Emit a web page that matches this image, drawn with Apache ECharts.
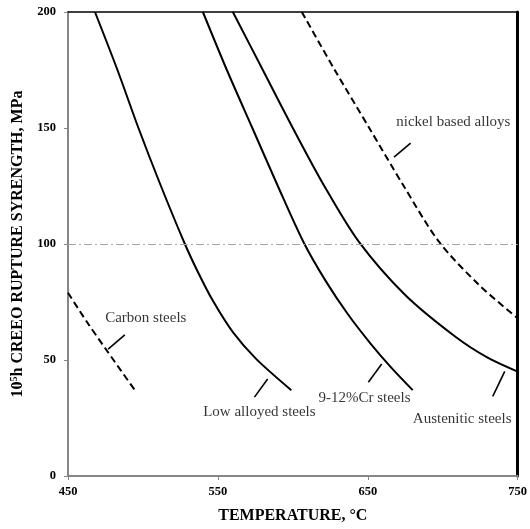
<!DOCTYPE html>
<html>
<head>
<meta charset="utf-8">
<script src="https://cdn.jsdelivr.net/npm/echarts@6/dist/echarts.min.js"></script>
<style>
  html, body { margin: 0; padding: 0; background: #fff; }
  #chart { width: 530px; height: 529px; }
</style>
</head>
<body>
<div id="chart"></div>
<script>
// Temperature ticks (°C) and stress ticks (MPa)
const tempTicks = [450, 550, 650, 750];
const stressTicks = [0, 50, 100, 150, 200];

// 10^5 h creep rupture strength curves: [temperature °C, strength MPa]
const carbonSteels = [[450, 79], [462, 67], [476, 54], [494.6, 37]];
const lowAlloyed = [[468, 200], [483, 175], [497, 150], [512, 125], [528, 100], [537, 87.5], [546.7, 75.5], [560, 62], [575.5, 50.5], [599, 37]];
const cr912 = [[540, 200], [556, 175], [573, 150], [590, 125], [607, 101], [622, 84], [637, 69.5], [652, 57], [666, 46.5], [680, 37]];
const austenitic = [[560, 200], [580, 175], [600, 150], [621, 125], [644, 101], [675, 78], [708.5, 60], [730, 51], [750, 45]];
const nickelAlloys = [[606, 200], [628, 175], [651, 150], [674, 125], [697.5, 101], [724, 82.5], [750, 68]];

// Reference level
const refLevel = 100;

// Curve names, label anchors and leader lines (data units)
const labelNames = ['Carbon steels', 'Low alloyed steels', '9-12%Cr steels', 'Austenitic steels', 'nickel based alloys'];
const labelPoints = [[501.9, 67.9], [577.7, 27.6], [647.8, 33.6], [713, 24.7], [707.1, 152.4]];
const leaderLines = [
  [[487.9, 60.8], [476.8, 54.7]],
  [[583.2, 41.8], [574.4, 34.0]],
  [[659.3, 48.3], [650.4, 40.4]],
  [[741.4, 45.1], [733.4, 34.3]],
  [[678.6, 143.5], [667.5, 137.4]]
];

const FONT = '"Liberation Serif", "Times New Roman", serif';
const chart = echarts.init(document.getElementById('chart'), null, { renderer: 'canvas' });

function curve(data, dashed) {
  return {
    type: 'line',
    data: data,
    smooth: 0.3,
    showSymbol: false,
    symbol: 'none',
    silent: true,
    lineStyle: { color: '#000', width: 2, type: dashed ? [7, 4] : 'solid' },
    z: 3
  };
}

const leaderSeries = leaderLines.map(seg => ({
  type: 'line',
  data: seg,
  showSymbol: false,
  symbol: 'none',
  silent: true,
  lineStyle: { color: '#000', width: 1.6 },
  z: 3
}));

const option = {
  animation: false,
  backgroundColor: '#fff',
  grid: { left: 68, right: 11, top: 12, bottom: 50 },
  xAxis: [
    {
      type: 'value',
      min: 450,
      max: 750,
      position: 'bottom',
      name: 'TEMPERATURE, °C',
      nameLocation: 'middle',
      nameGap: 32,
      nameTextStyle: { fontFamily: FONT, fontWeight: 'bold', fontSize: 16, color: '#000' },
      axisLine: { show: true, onZero: false, lineStyle: { color: '#868686', width: 2 } },
      axisTick: { show: true, length: 4, customValues: tempTicks, lineStyle: { color: '#868686', width: 1 } },
      axisLabel: { customValues: tempTicks, margin: 9, fontFamily: FONT, fontWeight: 'bold', fontSize: 12.5, color: '#000' },
      splitLine: { show: false }
    },
    {
      type: 'value',
      min: 450,
      max: 750,
      position: 'top',
      axisLine: { show: true, onZero: false, lineStyle: { color: '#000', width: 1.5 } },
      axisTick: { show: false },
      axisLabel: { show: false },
      splitLine: { show: false }
    }
  ],
  yAxis: [
    {
      type: 'value',
      min: 0,
      max: 200,
      interval: 50,
      position: 'left',
      name: '10{sup|5}h CREEO RUPTURE SYRENGTH, MPa',
      nameLocation: 'middle',
      nameGap: 30,
      nameRotate: 90,
      nameTextStyle: {
        fontFamily: FONT, fontWeight: 'bold', fontSize: 16, color: '#000',
        rich: {
          sup: { fontFamily: FONT, fontWeight: 'bold', fontSize: 10, color: '#000', verticalAlign: 'top', padding: [0, 0, 7, 0] }
        }
      },
      axisLine: { show: true, onZero: false, lineStyle: { color: '#868686', width: 2 } },
      axisTick: { show: true, length: 4, lineStyle: { color: '#868686', width: 1 } },
      axisLabel: { margin: 12, fontFamily: FONT, fontWeight: 'bold', fontSize: 12.5, color: '#000' },
      splitLine: { show: false }
    },
    {
      type: 'value',
      min: 0,
      max: 200,
      interval: 50,
      position: 'right',
      axisLine: { show: true, onZero: false, lineStyle: { color: '#000', width: 3 } },
      axisTick: { show: false },
      axisLabel: { show: false },
      splitLine: { show: false }
    }
  ],
  series: [
    {
      type: 'line',
      data: [],
      silent: true,
      markLine: {
        silent: true,
        symbol: 'none',
        label: { show: false },
        lineStyle: { color: '#a6a6a6', width: 1, type: [8, 3, 2, 3] },
        data: [{ yAxis: refLevel }]
      }
    },
    curve(carbonSteels, true),
    curve(lowAlloyed, false),
    curve(cr912, false),
    curve(austenitic, false),
    curve(nickelAlloys, true),
    ...leaderSeries,
    {
      type: 'scatter',
      symbolSize: 0,
      silent: true,
      data: labelPoints.map((p, i) => ({ value: p, name: labelNames[i] })),
      label: {
        show: true,
        position: 'inside',
        formatter: p => p.name,
        fontFamily: FONT,
        fontSize: 15,
        color: '#000'
      },
      z: 4
    }
  ]
};

chart.setOption(option);
</script>
</body>
</html>
